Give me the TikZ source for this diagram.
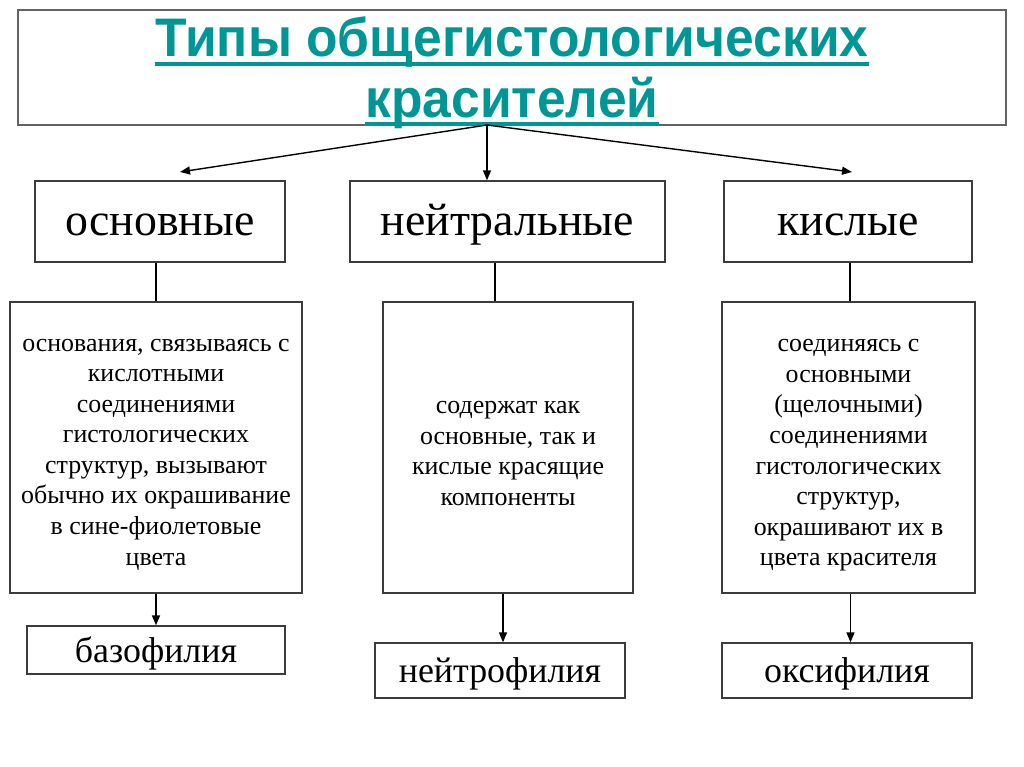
\documentclass[tikz,border=0pt]{standalone}
\usepackage{fontspec}
\setmainfont{Liberation Serif}
\newfontfamily\titlefont[FakeStretch=0.95]{Liberation Sans}
\usepackage{xcolor}
\usetikzlibrary{positioning,arrows.meta,calc}
\definecolor{titleteal}{RGB}{0,150,150}
\definecolor{boxgray}{RGB}{60,60,60}

\begin{document}
\begin{tikzpicture}[x=1bp, y=-1bp,
    box/.style={draw=boxgray, line width=1.3bp, rectangle, inner sep=0pt},
    catbox/.style={box, minimum height=81bp, text height=27bp, text depth=0pt,
                   font=\fontsize{46}{50}\selectfont},
    descbox/.style={box, minimum height=291bp},
    desctext/.style={inner sep=0pt, align=center, font=\fontsize{26}{30.7}\selectfont},
    resbox/.style={box, text height=24bp, text depth=0pt, font=\fontsize{36}{42}\selectfont},
    titletext/.style={inner sep=0pt, anchor=base, text=titleteal,
                      font=\titlefont\bfseries\fontsize{54.5}{58}\selectfont},
    conn/.style={line width=1.4bp, draw=black},
    arr/.style={conn, -{Triangle[length=10bp, width=8bp]}}]
\useasboundingbox[fill=white] (0,0) rectangle (1024,767);

% title
\node[box, draw=boxgray!80, minimum width=988bp, minimum height=115bp] (title) at (512,67.5) {};
\node[titletext] (t1) at (512,57) {Типы общегистологических};
\node[titletext] (t2) at (512,117) {красителей};
\draw[titleteal, line width=3.5bp] ([yshift=-7bp]t1.base west) -- ([yshift=-7bp]t1.base east);
\draw[titleteal, line width=3.5bp] ([yshift=-7bp]t2.base west) -- ([yshift=-7bp]t2.base east);

% dye types
\node[catbox, minimum width=250bp] (basic) at (160,221.5) {основные};
\node[catbox, minimum width=315bp] (neutral) at (507.5,221.5) {нейтральные};
\node[catbox, minimum width=248bp] (acid) at (848,221.5) {кислые};

% descriptions
\node[descbox, minimum width=292bp] (dbasic) at (156,447.5) {};
\node[descbox, minimum width=250bp] (dneutral) at (508,447.5) {};
\node[descbox, minimum width=253bp] (dacid) at (848.5,447.5) {};
\node[desctext] (tbasic) at ([yshift=-7bp]dbasic.center) {%
  основания, связываясь с\\кислотными\\соединениями\\гистологических\\%
  структур, вызывают\\обычно их окрашивание\\в сине-фиолетовые\\цвета};
\node[desctext] (tneutral) at ([yshift=-6bp]dneutral.center) {%
  содержат как\\основные, так и\\кислые красящие\\компоненты};
\node[desctext] (tacid) at ([yshift=-8bp]dacid.center) {%
  соединяясь с\\основными\\(щелочными)\\соединениями\\гистологических\\%
  структур,\\окрашивают их в\\цвета красителя};

% results
\node[resbox, minimum width=258bp, minimum height=48bp] (rbasic) at (156,650) {базофилия};
\node[resbox, minimum width=250bp, minimum height=55bp] (rneutral) at (500,670.5) {нейтрофилия};
\node[resbox, minimum width=250bp, minimum height=55bp] (racid) at (847,670.5) {оксифилия};

% connectors
\coordinate (hub) at (487,125);
\coordinate (lend) at (180,172);
\coordinate (rend) at (852,172);
\draw[arr] (hub) -- (lend);
\draw[arr] (hub) -- (hub |- neutral.north);
\draw[arr] (hub) -- (rend);

\draw[conn] (dbasic.north) -- (dbasic.north |- basic.south);
\draw[conn] ([xshift=-13bp]dneutral.north) -- ([xshift=-13bp]dneutral.north |- neutral.south);
\draw[conn] ([xshift=1.5bp]dacid.north) -- ([xshift=1.5bp]dacid.north |- acid.south);

\draw[arr] (dbasic.south) -- (dbasic.south |- rbasic.north);
\draw[arr] ([xshift=-5bp]dneutral.south) -- ([xshift=-5bp]dneutral.south |- rneutral.north);
\draw[arr] ([xshift=2bp]dacid.south) -- ([xshift=2bp]dacid.south |- racid.north);
\end{tikzpicture}
\end{document}
